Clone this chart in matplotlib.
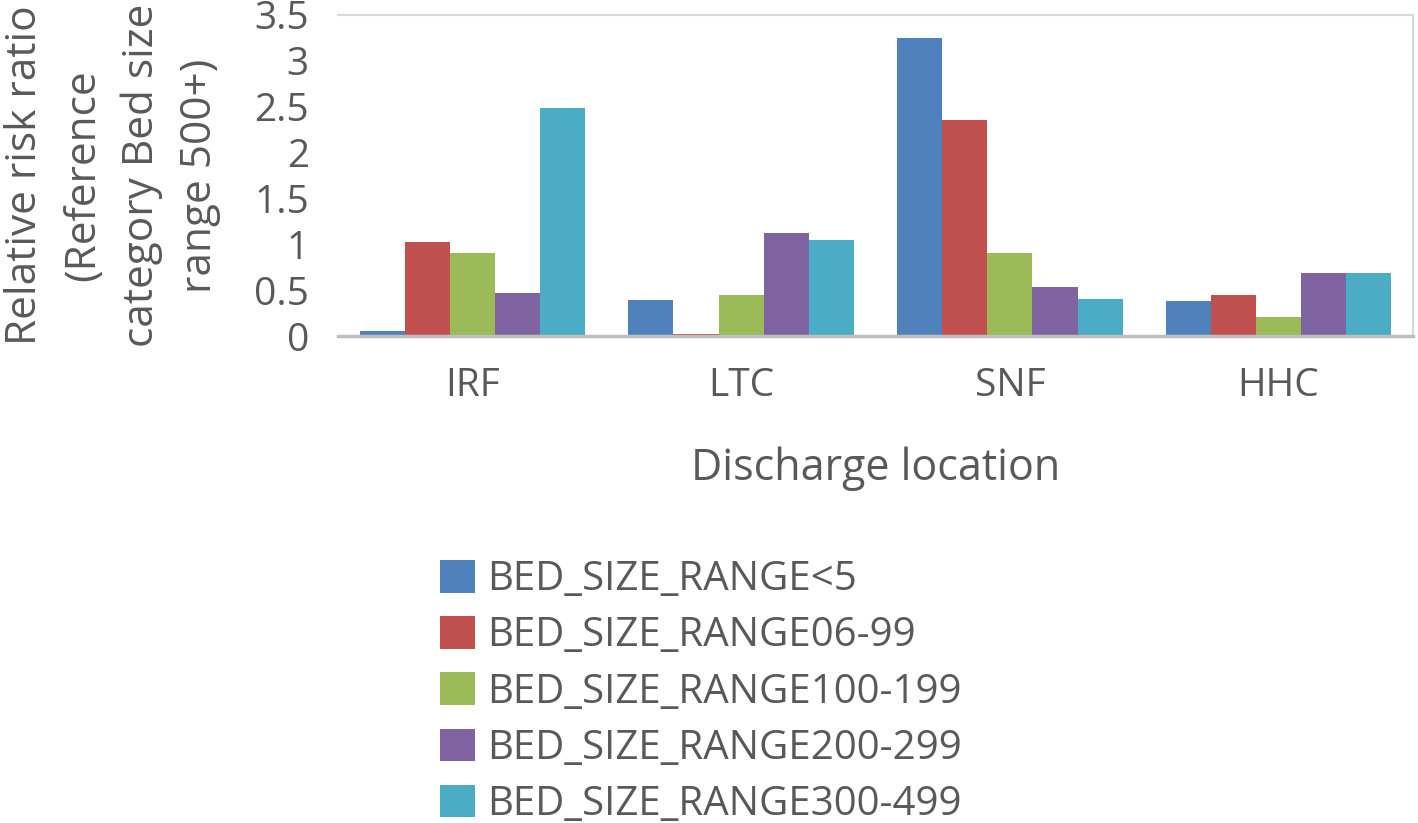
import matplotlib.pyplot as plt
import numpy as np

plt.rcParams['font.family'] = ['Open Sans', 'DejaVu Sans']

locations = ['IRF', 'LTC', 'SNF', 'HHC']
series_names = ['BED_SIZE_RANGE<5', 'BED_SIZE_RANGE06-99', 'BED_SIZE_RANGE100-199',
                'BED_SIZE_RANGE200-299', 'BED_SIZE_RANGE300-499']
bed_lt5 = [0.06, 0.39, 3.25, 0.38]
bed_06_99 = [1.02, 0.02, 2.35, 0.45]
bed_100_199 = [0.90, 0.45, 0.91, 0.21]
bed_200_299 = [0.47, 1.12, 0.53, 0.69]
bed_300_499 = [2.49, 1.05, 0.40, 0.69]
yticks = [0, 0.5, 1, 1.5, 2, 2.5, 3, 3.5]
ytick_labels = ['0', '0.5', '1', '1.5', '2', '2.5', '3', '3.5']

colors = ['#4F81BD', '#C0504D', '#9BBB59', '#8064A2', '#4BACC6']
txt = '#595959'
grid_c = '#BFBFBF'

fig = plt.figure(figsize=(14.18, 8.23), dpi=100)
ax = fig.add_axes([0.2384, 0.5917, 0.758, 0.3901])

x = np.arange(len(locations))
w = 0.168
all_series = [bed_lt5, bed_06_99, bed_100_199, bed_200_299, bed_300_499]
for i, (vals, name, c) in enumerate(zip(all_series, series_names, colors)):
    ax.bar(x + (i - 2) * w, vals, width=w, color=c, label=name, zorder=2)

ax.set_xlim(-0.5, len(locations) - 0.5)
ax.set_ylim(0, 3.5)
ax.set_yticks(yticks)
ax.set_yticklabels(ytick_labels)
ax.set_xticks(x)
ax.set_xticklabels(locations)
ax.tick_params(axis='both', length=0, labelsize=28, colors=txt)
ax.tick_params(axis='y', pad=21)
ax.tick_params(axis='x', pad=22)

for s in ['top', 'right']:
    ax.spines[s].set_color('#D9D9D9')
    ax.spines[s].set_linewidth(1.5)
ax.spines['bottom'].set_color(grid_c)
ax.spines['bottom'].set_linewidth(2.5)
ax.spines['left'].set_visible(False)

ax.set_xlabel('Discharge location', fontsize=31, color=txt, labelpad=30)
ax.set_ylabel('Relative risk ratio\n(Reference\ncategory Bed size\nrange 500+)',
              fontsize=30.5, color=txt, linespacing=1.5, labelpad=24)

fig.legend(loc='upper left', bbox_to_anchor=(0.310, 0.320), frameon=False,
           fontsize=29, labelcolor=txt, handlelength=0.87, handleheight=0.87,
           handletextpad=0.3, labelspacing=0.39, borderpad=0, borderaxespad=0)

fig.savefig('out.png', dpi=100, facecolor='white')
